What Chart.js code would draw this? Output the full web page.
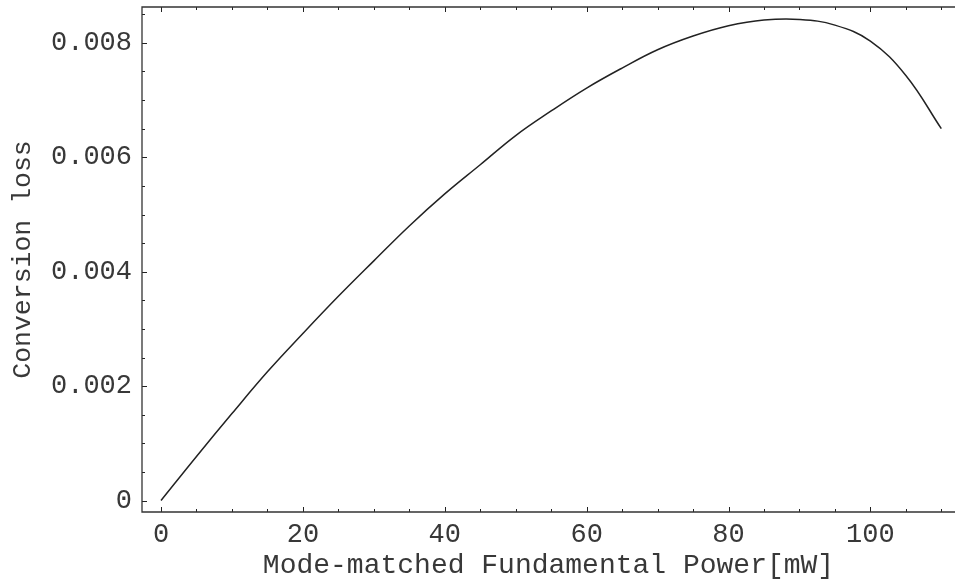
<!DOCTYPE html>
<html>
<head>
<meta charset="utf-8">
<script src="https://cdn.jsdelivr.net/npm/chart.js@4"></script>
<style>
  html, body { margin: 0; padding: 0; background: #fff; overflow: hidden; }
</style>
</head>
<body>
<canvas id="lossChart" width="955" height="583"></canvas>
<script>
// values
const powerMw = [0, 5, 10, 15, 20, 25, 30, 35, 40, 45, 50, 55, 60, 65, 70, 75, 80, 85, 90, 95, 100, 105, 110];
const conversionLoss = [0, 0.00077, 0.00152, 0.00225, 0.00292, 0.00357, 0.00419, 0.00480, 0.00536, 0.00587,
  0.00638, 0.00681, 0.00721, 0.00756, 0.00788, 0.00812, 0.00830, 0.00840, 0.00841, 0.00831, 0.00803, 0.00743, 0.00650];

const xMajorTicks = [0, 20, 40, 60, 80, 100];
const xMinorTicks = [5, 10, 15, 25, 30, 35, 45, 50, 55, 65, 70, 75, 85, 90, 95, 105, 110];
const yMajorTicks = [0, 0.002, 0.004, 0.006, 0.008];
const yMinorTicks = [0.0005, 0.001, 0.0015, 0.0025, 0.003, 0.0035, 0.0045, 0.005, 0.0055, 0.0065, 0.007, 0.0075, 0.0085];

const xTitle = "Mode-matched Fundamental Power[mW]";
const yTitle = "Conversion loss";

const ink = "#222";
const textInk = "#383838";
const mono = "'Liberation Mono', 'DejaVu Sans Mono', monospace";

// frame with inward ticks, Mathematica style (right edge falls off the picture)
const framePlugin = {
  id: "frame",
  afterDraw(chart) {
    const { ctx, chartArea: a, scales: { x, y } } = chart;
    ctx.save();
    ctx.strokeStyle = ink;
    ctx.lineWidth = 1;
    ctx.beginPath();
    const tick = (vals, len) => {
      vals.forEach(v => {
        const px = Math.round(x.getPixelForValue(v)) + 0.5;
        ctx.moveTo(px, a.bottom); ctx.lineTo(px, a.bottom - len);
        ctx.moveTo(px, a.top); ctx.lineTo(px, a.top + len);
      });
    };
    const ytick = (vals, len) => {
      vals.forEach(v => {
        const py = Math.round(y.getPixelForValue(v)) + 0.5;
        ctx.moveTo(a.left, py); ctx.lineTo(a.left + len, py);
      });
    };
    tick(xMajorTicks, 5);
    tick(xMinorTicks, 3);
    ytick(yMajorTicks, 5);
    ytick(yMinorTicks, 3);
    ctx.stroke();

    ctx.lineWidth = 1.3;
    ctx.strokeStyle = "#333";
    ctx.beginPath();
    ctx.moveTo(chart.width + 2, a.top);
    ctx.lineTo(a.left, a.top);
    ctx.lineTo(a.left, a.bottom);
    ctx.lineTo(chart.width + 2, a.bottom);
    ctx.stroke();
    ctx.restore();
  }
};

new Chart(document.getElementById("lossChart"), {
  type: "line",
  data: {
    datasets: [{
      data: powerMw.map((p, i) => ({ x: p, y: conversionLoss[i] })),
      borderColor: ink,
      borderWidth: 1.5,
      pointRadius: 0,
      tension: 0.4,
      fill: false
    }]
  },
  options: {
    responsive: false,
    animation: false,
    devicePixelRatio: 1,
    layout: { padding: { top: 7, right: 0, left: 0, bottom: 0 } },
    plugins: { legend: { display: false }, tooltip: { enabled: false } },
    scales: {
      x: {
        type: "linear",
        position: "bottom",
        min: -2.68,
        max: 111.93,
        afterBuildTicks: s => { s.ticks = xMajorTicks.map(v => ({ value: v })); },
        afterFit: s => { s.height = 71; s.paddingLeft = 0; s.paddingRight = 0; },
        grid: { display: false, drawTicks: false },
        border: { display: false },
        ticks: {
          color: textInk,
          font: { family: mono, size: 27, lineHeight: 1 },
          padding: 9,
          maxRotation: 0,
          autoSkip: false
        },
        title: {
          display: true,
          text: xTitle,
          color: textInk,
          font: { family: mono, size: 28, lineHeight: 1 },
          padding: { top: 0, bottom: 3 }
        }
      },
      y: {
        type: "linear",
        min: -0.0002,
        max: 0.008627,
        afterBuildTicks: s => { s.ticks = yMajorTicks.map(v => ({ value: v })); },
        afterFit: s => { s.width = 142; s.paddingTop = 0; s.paddingBottom = 0; },
        grid: { display: false, drawTicks: false },
        border: { display: false },
        ticks: {
          color: textInk,
          font: { family: mono, size: 27, lineHeight: 1 },
          padding: 10,
          autoSkip: false,
          callback: v => v === 0 ? "0" : v.toFixed(3)
        },
        title: {
          display: true,
          text: yTitle,
          color: textInk,
          font: { family: mono, size: 26.5, lineHeight: 1 },
          padding: { top: 10, bottom: 0 }
        }
      }
    }
  },
  plugins: [framePlugin]
});
</script>
</body>
</html>
